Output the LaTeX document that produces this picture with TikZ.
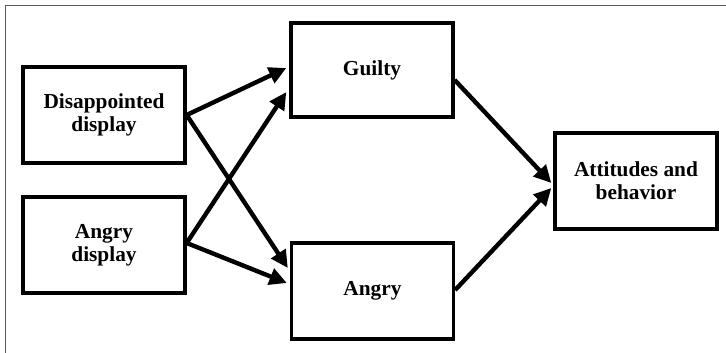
\documentclass[tikz,border=0pt]{standalone}
\usepackage{fontspec}
\setmainfont{Liberation Serif}
\usetikzlibrary{arrows.meta,calc}
\begin{document}
\begin{tikzpicture}[x=0.75pt,y=-0.75pt,
  box/.style={draw=black,line width=2.5pt,fill=white,minimum width=121.5pt,minimum height=72pt,
    align=center,inner sep=0pt,font=\bfseries\fontsize{16}{17.5}\selectfont},
  arr/.style={line width=3.3pt,-{Triangle[length=13pt,width=12.5pt]}}]
\useasboundingbox (0,0) rectangle (726,353);
\fill[white] (0,0) rectangle (726,353);
\draw[line width=0.9pt,black!65] (726,5.5) -- (5.5,5.5) -- (5.5,353);
\node[box] (dis) at (104,115) {Disappointed\\display};
\node[box] (angd) at (104,245) {Angry\\display};
\node[box,minimum height=70.5pt] (guilty) at (372,70) {Guilty};
\node[box] (angry) at (372.5,291) {Angry};
\node[box] (att) at (636,181) {Attitudes and\\behavior};
\draw[arr] (dis.east) -- ($(guilty.west)+(-3,-2)$);
\draw[arr] (dis.east) -- ($(angry.west)+(-2,-23)$);
\draw[arr] ($(angd.east)+(0,-2)$) -- ($(guilty.west)+(-3,22)$);
\draw[arr] ($(angd.east)+(0,-2)$) -- ($(angry.west)+(-3,-8)$);
\draw[arr] ($(guilty.east)+(0,10)$) -- ($(att.west)+(-2,2)$);
\draw[arr] ($(angry.east)+(0,-1)$) -- ($(att.west)+(-2,7)$);
\end{tikzpicture}
\end{document}
